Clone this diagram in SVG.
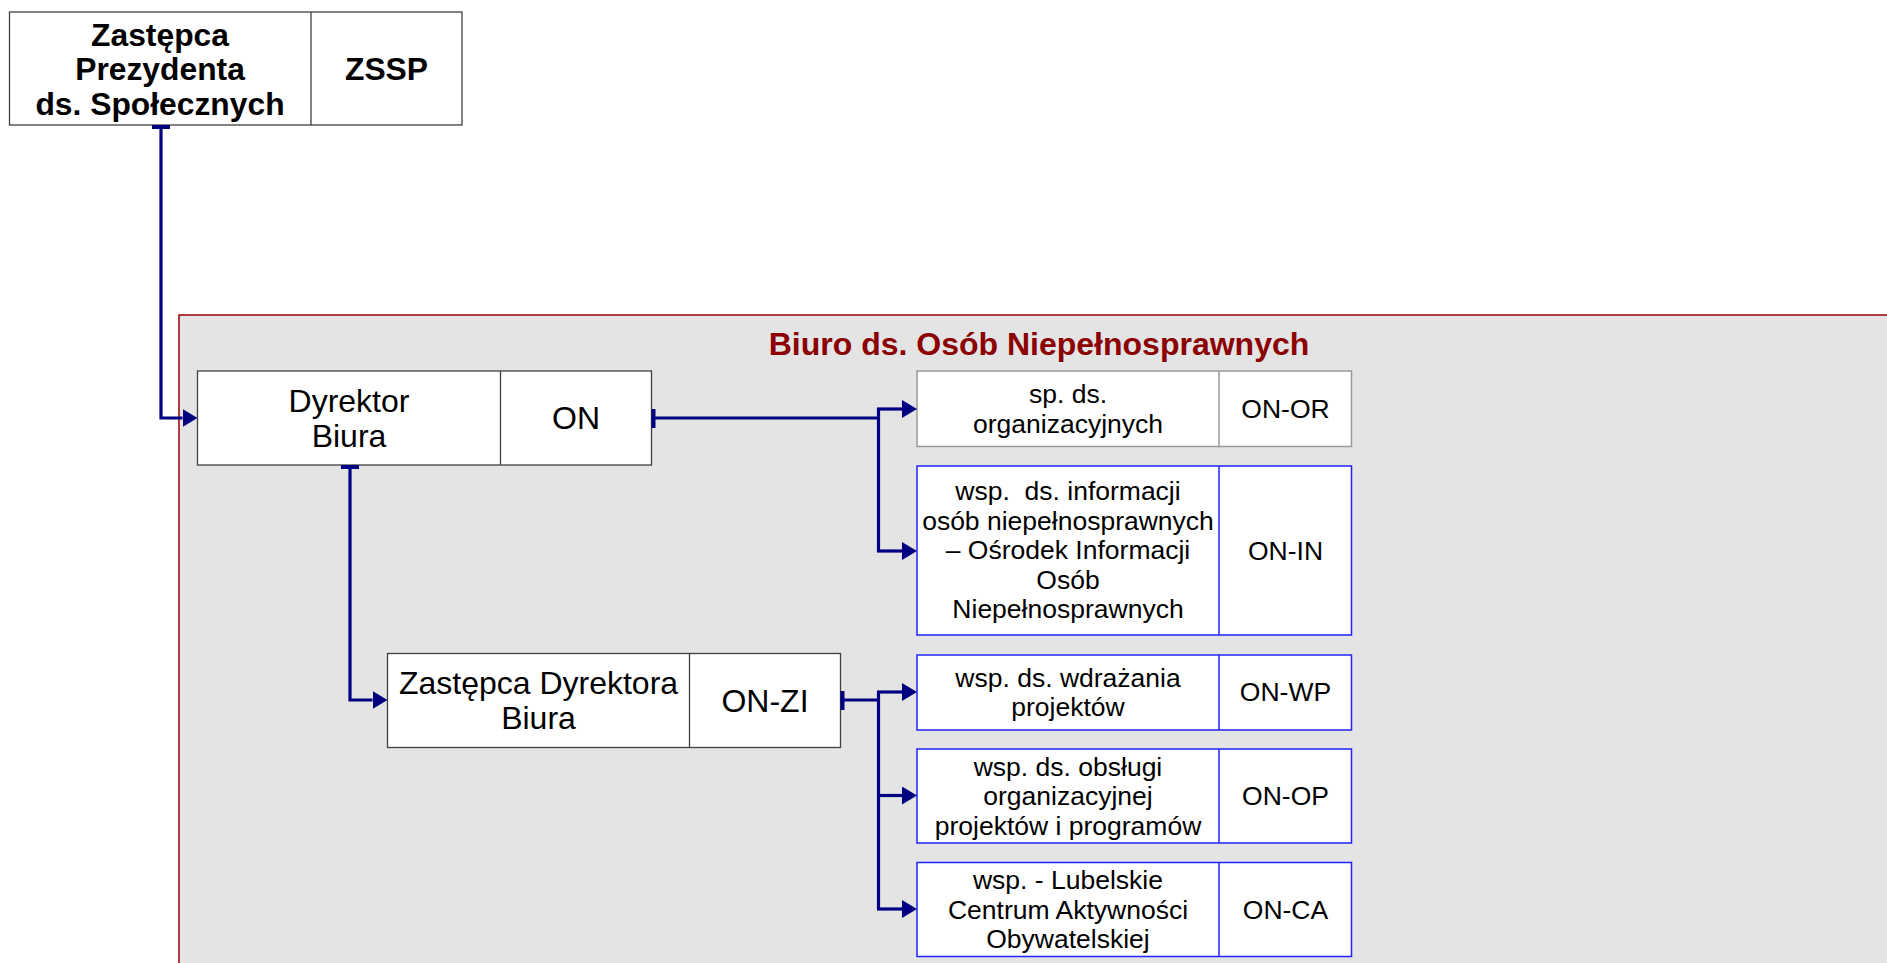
<svg xmlns="http://www.w3.org/2000/svg" width="1887" height="963" viewBox="0 0 1887 963">
<style>
.box{fill:#ffffff;stroke:#404040;stroke-width:1.3}
.gbox{fill:#ffffff;stroke:#999999;stroke-width:1.5}
.bbox{fill:#ffffff;stroke:#2222ff;stroke-width:1.5}
.t31{font-family:"Liberation Sans",Arial,sans-serif;font-size:32px;fill:#000;text-anchor:middle}
.b31{font-family:"Liberation Sans",Arial,sans-serif;font-size:31.8px;font-weight:bold;fill:#000;text-anchor:middle}
.t26{font-family:"Liberation Sans",Arial,sans-serif;font-size:26.5px;fill:#000;text-anchor:middle}
.title{font-family:"Liberation Sans",Arial,sans-serif;font-size:32px;font-weight:bold;fill:#8b0000;text-anchor:middle}
.conn{fill:none;stroke:#000080;stroke-width:3.2}
.tbar{stroke:#000080;stroke-width:4}
</style>
<defs>
<marker id="arr" viewBox="0 0 15 18" refX="0" refY="9" markerWidth="15" markerHeight="18" markerUnits="userSpaceOnUse" orient="auto">
<path d="M0,0 L15,9 L0,18 z" fill="#000080"/>
</marker>
</defs>
<rect x="0" y="0" width="1887" height="963" fill="#ffffff"/>

<g id="container">
<rect x="179" y="315" width="1800" height="720" fill="#e4e4e4" stroke="#990000" stroke-width="1.5"/>
<text class="title" x="1039" y="354.5">Biuro ds. Osób Niepełnosprawnych</text>
</g>

<g id="node-zssp">
<rect class="box" x="9.5" y="12" width="452.5" height="113"/>
<line x1="311" y1="12" x2="311" y2="125" stroke="#404040" stroke-width="1.3"/>
<text class="b31" x="160" y="45.5">Zastępca</text>
<text class="b31" x="160" y="80">Prezydenta</text>
<text class="b31" x="160" y="114.5">ds. Społecznych</text>
<text class="b31" x="386.5" y="80">ZSSP</text>
</g>

<g id="node-on">
<rect class="box" x="197.5" y="371" width="454" height="94"/>
<line x1="500.5" y1="371" x2="500.5" y2="465" stroke="#404040" stroke-width="1.3"/>
<text class="t31" x="349" y="412">Dyrektor</text>
<text class="t31" x="349" y="447">Biura</text>
<text class="t31" x="576" y="429">ON</text>
</g>

<g id="node-on-zi">
<rect class="box" x="387.5" y="653.5" width="453" height="94"/>
<line x1="689.5" y1="653.5" x2="689.5" y2="747.5" stroke="#404040" stroke-width="1.3"/>
<text class="t31" x="538.5" y="694">Zastępca Dyrektora</text>
<text class="t31" x="538.5" y="729">Biura</text>
<text class="t31" x="765" y="711.5">ON-ZI</text>
</g>

<g id="node-on-or">
<rect class="gbox" x="917" y="371" width="434.5" height="75.5"/>
<line x1="1219" y1="371" x2="1219" y2="446.5" stroke="#999999" stroke-width="1.5"/>
<text class="t26" x="1068" y="403">sp. ds.</text>
<text class="t26" x="1068" y="432.5">organizacyjnych</text>
<text class="t26" x="1285.5" y="418">ON-OR</text>
</g>

<g id="node-on-in">
<rect class="bbox" x="917" y="466" width="434.5" height="169"/>
<line x1="1219" y1="466" x2="1219" y2="635" stroke="#2222ff" stroke-width="1.5"/>
<text class="t26" x="1068" y="500" xml:space="preserve">wsp.  ds. informacji</text>
<text class="t26" x="1068" y="529.5">osób niepełnosprawnych</text>
<text class="t26" x="1068" y="559">– Ośrodek Informacji</text>
<text class="t26" x="1068" y="588.5">Osób</text>
<text class="t26" x="1068" y="618">Niepełnosprawnych</text>
<text class="t26" x="1285.5" y="559.5">ON-IN</text>
</g>

<g id="node-on-wp">
<rect class="bbox" x="917" y="655" width="434.5" height="75"/>
<line x1="1219" y1="655" x2="1219" y2="730" stroke="#2222ff" stroke-width="1.5"/>
<text class="t26" x="1068" y="686.5">wsp. ds. wdrażania</text>
<text class="t26" x="1068" y="716">projektów</text>
<text class="t26" x="1285.5" y="701">ON-WP</text>
</g>

<g id="node-on-op">
<rect class="bbox" x="917" y="749" width="434.5" height="94"/>
<line x1="1219" y1="749" x2="1219" y2="843" stroke="#2222ff" stroke-width="1.5"/>
<text class="t26" x="1068" y="775.5">wsp. ds. obsługi</text>
<text class="t26" x="1068" y="805">organizacyjnej</text>
<text class="t26" x="1068" y="834.5">projektów i programów</text>
<text class="t26" x="1285.5" y="805">ON-OP</text>
</g>

<g id="node-on-ca">
<rect class="bbox" x="917" y="862.5" width="434.5" height="94"/>
<line x1="1219" y1="862.5" x2="1219" y2="956.5" stroke="#2222ff" stroke-width="1.5"/>
<text class="t26" x="1068" y="889">wsp. - Lubelskie</text>
<text class="t26" x="1068" y="918.5">Centrum Aktywności</text>
<text class="t26" x="1068" y="948">Obywatelskiej</text>
<text class="t26" x="1285.5" y="919">ON-CA</text>
</g>

<g id="connectors">
<line class="tbar" x1="152" y1="127" x2="170" y2="127"/>
<path class="conn" d="M161,125 V418 H182.5" marker-end="url(#arr)"/>

<line class="tbar" x1="341" y1="467" x2="359" y2="467"/>
<path class="conn" d="M350,465 V700 H372.5" marker-end="url(#arr)"/>

<line class="tbar" x1="653.5" y1="409" x2="653.5" y2="428"/>
<path class="conn" d="M651.5,418 H878.5"/>
<path class="conn" d="M878.5,409 V551"/>
<path class="conn" d="M877,409 H902" marker-end="url(#arr)"/>
<path class="conn" d="M877,551 H902" marker-end="url(#arr)"/>

<line class="tbar" x1="842.5" y1="691" x2="842.5" y2="710"/>
<path class="conn" d="M840.5,700 H878.5"/>
<path class="conn" d="M878.5,692 V909"/>
<path class="conn" d="M877,692 H902" marker-end="url(#arr)"/>
<path class="conn" d="M877,795.5 H902" marker-end="url(#arr)"/>
<path class="conn" d="M877,909 H902" marker-end="url(#arr)"/>
</g>
</svg>
